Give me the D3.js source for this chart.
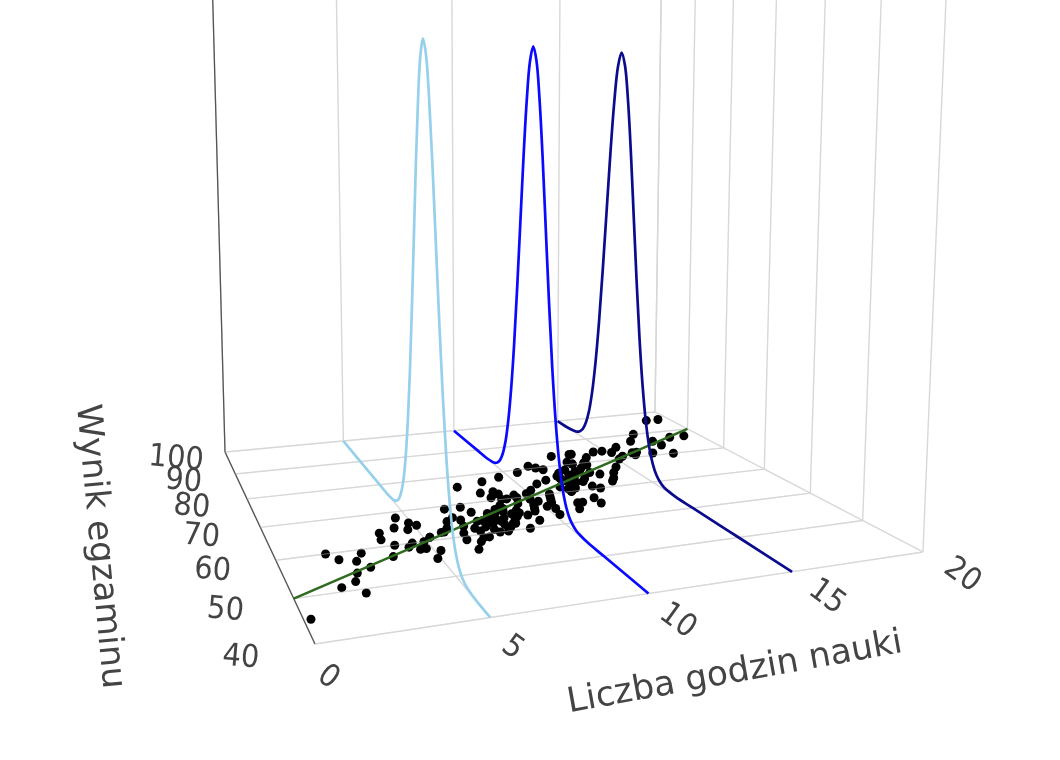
<!DOCTYPE html>
<html><head><meta charset="utf-8">
<style>html,body{margin:0;background:#fff}svg{display:block;filter:blur(.6px)}text{font-family:"DejaVu Sans",sans-serif;fill:#444}</style>
</head><body><svg id="c" width="1060" height="760"></svg>
<script src="https://d3js.org/d3.v7.min.js"></script>
<script>
// ---- data ----
const hours=[0.2,2.1,1.5,2.0,2.2,2.7,2.4,2.7,1.9,1.6,3.7,3.6,4.3,4.6,3.9,3.6,4.9,5.1,4.7,4.5,4.3,4.6,4.9,4.8,5.2,5.2,4.9,6.5,5.7,6.0,
8.8,9.6,8.3,7.7,7.1,7.3,6.5,6.7,6.2,5.8,5.2,6.3,6.4,6.9,6.4,6.7,6.9,7.1,7.6,8.1,8.5,8.9,8.4,8.1,7.8,7.5,7.7,7.9,7.3,7.5,8.5,8.8,8.7,8.8,8.9,9.4,8.5,8.1,7.8,8.5,
10.5,11.2,11.4,11.6,12.6,11.2,10.7,9.4,9.9,10.2,9.8,9.7,9.5,9.3,10.0,10.7,10.5,10.4,10.3,10.2,9.2,8.9,8.6,8.7,13.4,12.9,12.4,13.0,12.2,11.9,11.8,12.0,11.6,11.6,11.3,
18.9,19.5,17.3,16.7,19.3,18.6,17.7,17.6,16.8,17.6,16.2,16.0,16.0,15.4,15.1,15.7,15.2,14.9,14.5,13.9,13.5,13.5,12.9,13.5,13.0,14.5,14.1,13.8,13.6,13.5,12.7,12.6,12.8,12.1,11.5,11.1,12.1,11.9,11.9,11.6,
7.9,8.2,8.3,8.0,7.7,8.6,8.2,7.4,7.9,8.4,8.0,8.7,7.2,7.0,6.6,12.3,12.5,12.2,12.7,11.8,12.4,12.0,13.2,13.1,11.4,9.1,9.0,10.1,10.6,9.6];
const scores=[45,49,51,52,54,55,57,59,58,60,64,62,65,68,60,57,66,65,64,60,59,58,60,58,61,57,55,69,62,63,
77,78,73,76,69,67,66,65,65,62,61,59,61,62,56,58,59,59,60,61,63,65,66,66,66,63,63,64,62,61,68,70,72,73,72,70,71,66,64,67,
79,81,80,79,84,75,74,71,71,72,69,67,65,62,68,70,68,67,65,63,68,66,64,60,84,81,78,80,75,74,75,73,71,70,66,
96,96,90,87,87,87,84,86,81,80,82,81,82,81,80,85,83,84,84,82,80,79,77,84,80,77,75,73,72,75,74,71,70,67,66,64,65,71,72,70,
65,64,62,62,65,65,67,64,60,62,63,64,64,61,63,76,73,73,77,76,75,77,76,78,72,64,70,66,69,66];
const lineHours=[0,20], lineScores=[50,90];
const curveHours=[5,10,15], curveMeans=[60,70,80], curveColors=["#96d0ea","#0a0aff","#0b0b8e"];
const densityOffsets=[-40,-30,-20,-16,-14,-13,-12,-11,-10,-9,-8,-7,-6,-5,-4,-3,-2,-1,0,1,2,3,4,5,6,7,8,9,10,11,12,13,14,16,20,30,40];
const densityValues=[0,0,0,0,.0002,.0004,.0009,.0018,.0035,.0063,.0108,.0173,.0259,.0366,.0484,.0603,.0704,.0773,.0798,.0773,.0704,.0603,.0484,.0366,.0259,.0173,.0108,.0063,.0035,.0018,.0009,.0004,.0002,0,0,0,0];
const xTicks=[0,5,10,15,20], yTicks=[40,50,60,70,80,90,100];
const xTitle="Liczba godzin nauki", yTitle="Wynik egzaminu";

// ---- scales and camera ----
const X=d3.scaleLinear([0,20],[0,1]), Y=d3.scaleLinear([40,100],[0,1]), Z=d3.scaleLinear([0,.1],[0,1]);
const CAM=[[806.3,33.3,-36.85,315],[26.6,55.65,-781.6,644],[.2149,.5479,-.0734,1]];
const proj=(a,b,c)=>{const w=CAM[2][0]*a+CAM[2][1]*b+CAM[2][2]*c+CAM[2][3];
  return [(CAM[0][0]*a+CAM[0][1]*b+CAM[0][2]*c+CAM[0][3])/w,(CAM[1][0]*a+CAM[1][1]*b+CAM[1][2]*c+CAM[1][3])/w];};
const P=(h,s,d=0)=>proj(X(h),Y(s),Z(d));
const svg=d3.select("#c");
const seg=d3.line();

// grid
const grid=[];
xTicks.forEach(h=>{grid.push([P(h,40),P(h,100)]);grid.push([P(h,100),proj(X(h),1,1)]);});
yTicks.forEach(s=>{grid.push([P(0,s),P(20,s)]);grid.push([P(20,s),proj(1,Y(s),1)]);});
svg.append("g").selectAll("path").data(grid).join("path").attr("d",seg).attr("fill","none").attr("stroke","#d8d8d8").attr("stroke-width",1.4);
svg.append("g").selectAll("path").data([[P(0,40),P(0,100)],[P(0,100),proj(0,1,1)]]).join("path").attr("d",seg).attr("fill","none").attr("stroke","#555").attr("stroke-width",1.3);

// points
svg.append("g").selectAll("circle").data(hours.map((h,i)=>P(h,scores[i]))).join("circle")
  .attr("cx",d=>d[0]).attr("cy",d=>d[1]).attr("r",4.5).attr("fill","#000");

// floor grid shows faintly across the points
svg.append("g").selectAll("path").data(yTicks.map(s=>[P(0,s),P(20,s)])).join("path").attr("d",seg).attr("fill","none").attr("stroke","#d8d8d8").attr("stroke-width",1).attr("opacity",.45);

// regression line
svg.append("path").attr("d",seg(lineHours.map((h,i)=>P(h,lineScores[i])))).attr("fill","none").attr("stroke","#2f6b1f").attr("stroke-width",2.5);

// density curves
const smooth=d3.line().curve(d3.curveCatmullRom);
curveHours.forEach((h,k)=>{
  const pts=[];densityOffsets.forEach((o,i)=>{const s=curveMeans[k]+o;if(s>=40&&s<=100)pts.push(P(h,s,densityValues[i]));});
  svg.append("path").attr("d",smooth(pts)).attr("fill","none").attr("stroke",curveColors[k]).attr("stroke-width",2.7);
});

// tick labels
const lab=(p,rot,t,size,sy=1)=>svg.append("text").attr("transform",`translate(${p[0]},${p[1]}) rotate(${rot}) scale(1,${sy})`)
  .attr("text-anchor","middle").attr("dominant-baseline","central").attr("font-size",size).text(t);
xTicks.forEach(h=>lab(proj(X(h),-.1,0),36,h,29,1.08));
yTicks.forEach(s=>lab(proj(-.098,Y(s),0),5,s,29,1.08));

// axis titles, aligned with the projected axis direction
const ang=(a,b)=>Math.atan2(b[1]-a[1],b[0]-a[0])*180/Math.PI;
lab(proj(.493,-.27,0),ang(proj(.4,-.27,0),proj(.6,-.27,0)),xTitle,34.5);
lab(proj(-.257,.497,0),ang(proj(-.257,.6,0),proj(-.257,.4,0)),yTitle,34.5);
</script></body></html>
